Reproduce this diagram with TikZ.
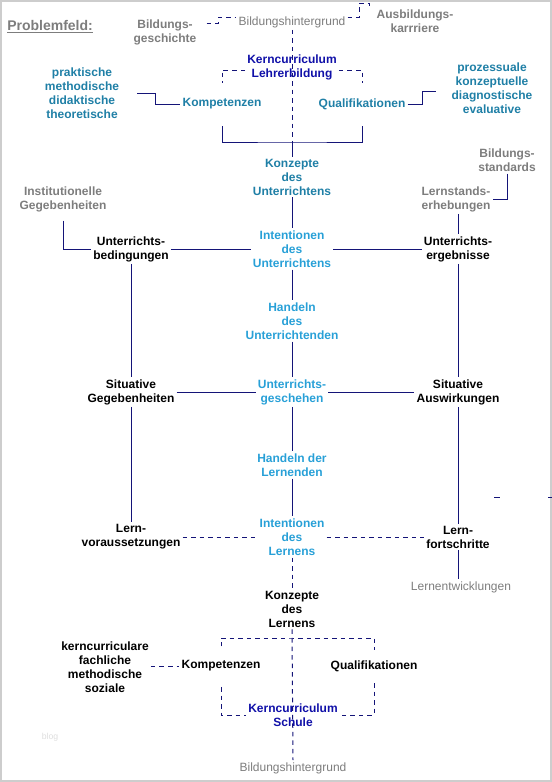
\documentclass[tikz,border=0pt]{standalone}
\usepackage{fontspec}
\setmainfont{Liberation Sans}
\usepackage[dvipsnames]{xcolor}
\definecolor{grautext}{RGB}{125,125,125}
\definecolor{petrolblau}{RGB}{31,127,166}
\definecolor{hellblau}{RGB}{40,160,215}
\definecolor{kernblau}{RGB}{16,16,168}
\definecolor{linienblau}{RGB}{20,20,120}
\definecolor{rahmengrau}{RGB}{205,205,205}
\definecolor{blass}{RGB}{222,222,222}

\begin{document}
\begin{tikzpicture}[x=0.75pt,y=-0.75pt,
  txt/.style={font=\fontsize{9}{10.5}\selectfont\bfseries,align=center,inner sep=1.5pt},
  grau/.style={txt,text=grautext},
  grauduenn/.style={txt,text=grautext,font=\fontsize{9}{10.5}\selectfont},
  petrol/.style={txt,text=petrolblau},
  hell/.style={txt,text=hellblau},
  kern/.style={txt,text=kernblau},
  schwarz/.style={txt,text=black},
  linie/.style={draw=linienblau,line width=0.75pt},
  strichel/.style={linie,dash pattern=on 3.4pt off 3pt}]
          \useasboundingbox (0,0) rectangle (552,782);
          \draw[rahmengrau,line width=1.5pt] (1,1) rectangle (551,781);
          \node (prob) at (5,27) [grau,anchor=west,font=\fontsize{10.5}{12}\selectfont\bfseries]
          {\underline{Problemfeld:}};
          \node (bges) at (165,32) [grau] {Bildungs-\\geschichte};
          \node (bhgT) at (292,22) [grauduenn] {Bildungshintergrund};
          \node (ausb) at (415,21) [grau] {Ausbildungs-\\karrriere};
          \node (kcL) at (292,67) [kern] {Kerncurriculum\\Lehrerbildung};
          \node (kompL) at (222,104) [petrol] {Kompetenzen};
          \node (qualL) at (362,104) [petrol] {Qualifikationen};
          \node (prakt) at (82,93) [petrol] {praktische\\methodische\\didaktische\\theoretische};
          \node (proz) at (492,88) [petrol] {prozessuale\\konzeptuelle\\diagnostische\\evaluative};
          \node (konzU) at (292,177) [petrol] {Konzepte\\des\\Unterrichtens};
          \node (inst) at (63,199) [grau] {Institutionelle\\Gegebenheiten};
          \node (ubed) at (131,249) [schwarz] {Unterrichts-\\bedingungen};
          \node (intU) at (292,249) [hell] {Intentionen\\des\\Unterrichtens};
          \node (bstand) at (507,160) [grau] {Bildungs-\\standards};
          \node (lstand) at (456,199) [grau] {Lernstands-\\erhebungen};
          \node (uerg) at (458,249) [schwarz] {Unterrichts-\\ergebnisse};
          \node (handU) at (292,321) [hell] {Handeln\\des\\Unterrichtenden};
          \node (sitG) at (131,392) [schwarz] {Situative\\Gegebenheiten};
          \node (ugesch) at (292,392) [hell] {Unterrichts-\\geschehen};
          \node (sitA) at (458,392) [schwarz] {Situative\\Auswirkungen};
          \node (handL) at (292,465) [hell] {Handeln der\\Lernenden};
          \node (lvor) at (131,537) [schwarz] {Lern-\\voraussetzungen};
          \node (intL) at (292,537) [hell] {Intentionen\\des\\Lernens};
          \node (lfort) at (458,537) [schwarz] {Lern-\\fortschritte};
          \node (lentw) at (461,587) [grauduenn] {Lernentwicklungen};
          \node (konzL) at (292,609) [schwarz] {Konzepte\\des\\Lernens};
          \node (kernS) at (105,667) [schwarz] {kerncurriculare\\fachliche\\methodische\\soziale};
          \node (kompS) at (221,666) [schwarz] {Kompetenzen};
          \node (qualS) at (374,666) [schwarz] {Qualifikationen};
          \node (kcS) at (293,715) [kern] {Kerncurriculum\\Schule};
          \node (bhgB) at (293,768) [grauduenn] {Bildungshintergrund};
          \node (blog) at (50,737) [font=\fontsize{6.5}{8}\selectfont,text=blass] {blog};
          % oben
          \draw[strichel,shorten <=6pt] (bges.east |- 0,23) -- ++(20,0) |- (bhgT.west |- 0,17);
          \draw[strichel] (bhgT.east |- 0,17) -- ++(12,0) -- ++(0,-14) -- ++(10,0) -- ++(0,5);
          \draw[strichel] (bhgT.south) -- (konzU.north);
          \draw[strichel,shorten >=10pt] (kcL.west |- 0,70) -| (kompL.north);
          \draw[strichel,shorten >=10pt] (kcL.east |- 0,70) -| (qualL.north);
          \draw[linie,shorten <=11pt,shorten >=11pt] (kompL.south) |- (konzU.north |- 0,142) -| (qualL.south);
          \draw[linie] (konzU.north |- 0,142) -- (konzU.north);
          \draw[linie,shorten <=12pt] (prakt.east) -- ++(34,0) |- (kompL.west);
          \draw[linie,shorten >=10pt] (qualL.east) -- ++(15,0) |- (proz.west |- 0,91);
          % Unterricht
          \draw[linie] (konzU.south) -- (intU.north);
          \draw[linie,shorten <=5pt] (inst.south) |- (ubed.west);
          \draw[linie] (ubed.east) -- (intU.west);
          \draw[linie] (intU.east) -- (uerg.west);
          \draw[linie] (bstand.south) |- (lstand.east);
          \draw[linie] (uerg.north |- lstand.south) -- (uerg.north);
          \draw[linie] (intU.south) -- (handU.north);
          \draw[linie] (handU.south) -- (ugesch.north);
          \draw[linie] (ubed.south) -- (sitG.north);
          \draw[linie] (uerg.south) -- (sitA.north);
          \draw[linie] (sitG.east) -- (ugesch.west);
          \draw[linie] (ugesch.east) -- (sitA.west);
          % Lernen
          \draw[linie] (ugesch.south) -- (handL.north);
          \draw[linie] (handL.south) -- (intL.north);
          \draw[linie] (sitG.south) -- (lvor.north);
          \draw[linie] (sitA.south) -- (lfort.north);
          \draw[strichel] (lvor.east) -- (intL.west);
          \draw[strichel] (intL.east) -- (lfort.west);
          \draw[linie] (lfort.south) -- (lfort.south |- lentw.north);
          \draw[linie,dash pattern=on 4.5pt off 36pt] (494,497) -- (552,497);
          % unten
          \draw[strichel] (intL.south) -- (konzL.north);
          \draw[strichel] (konzL.south) -- (bhgB.north);
          \draw[strichel,shorten <=9pt,shorten >=6pt] (kompS.north) |- (konzL.south |- 0,638) -| (qualS.north);
          \draw[strichel,shorten <=10pt] (kompS.south) |- (kcS.west);
          \draw[strichel,shorten <=7pt] (qualS.south) |- (kcS.east);
          \draw[strichel] (kernS.east |- kompS.west) -- (kompS.west);
        \end{tikzpicture}
\end{document}
